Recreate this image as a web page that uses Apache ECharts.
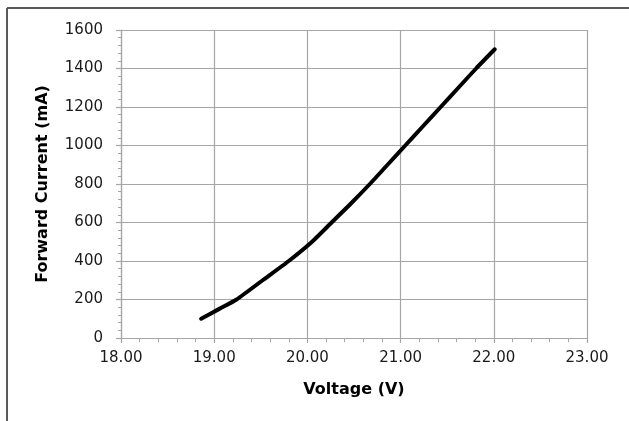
<!DOCTYPE html>
<html>
<head>
<meta charset="utf-8">
<script src="https://cdn.jsdelivr.net/npm/echarts@6/dist/echarts.min.js"></script>
<style>
html,body{margin:0;padding:0;background:#fff;}
#chart{width:629px;height:421px;}
</style>
</head>
<body>
<div id="chart"></div>
<script>
// Data
var voltage = [18.86, 19.05, 19.24, 19.52, 19.80, 20.05, 20.26, 20.47, 20.67, 20.86, 21.05, 21.24, 21.43, 21.62, 21.81, 22.01];
var current = [100, 150, 200, 300, 400, 500, 600, 700, 800, 900, 1000, 1100, 1200, 1300, 1400, 1500];
var xTitle = 'Voltage (V)';
var yTitle = 'Forward Current (mA)';

var points = voltage.map(function (v, i) { return [v, current[i]]; });
var FONT = 'DejaVu Sans';
var gridColor = '#a6a6a6';

var chart = echarts.init(document.getElementById('chart'), null, {renderer: 'canvas'});
chart.setOption({
  animation: false,
  backgroundColor: '#ffffff',
  graphic: [
    {type: 'line', shape: {x1: 7, y1: 8, x2: 640, y2: 8}, style: {stroke: '#595959', lineWidth: 2}},
    {type: 'line', shape: {x1: 7, y1: 8, x2: 7, y2: 430}, style: {stroke: '#595959', lineWidth: 2}}
  ],
  grid: {left: 121, right: 42, top: 30, bottom: 83, containLabel: false, show: false},
  xAxis: {
    type: 'value', min: 18, max: 23, interval: 1,
    name: xTitle, nameLocation: 'middle', nameGap: 44,
    nameTextStyle: {fontFamily: FONT, fontWeight: 'bold', fontSize: 16, color: '#000'},
    axisLine: {show: true, lineStyle: {color: gridColor, width: 1.2}},
    axisTick: {show: true, inside: false, length: 5, lineStyle: {color: gridColor, width: 1.2}},
    minorTick: {show: true, splitNumber: 5, length: 4, lineStyle: {color: gridColor, width: 1}},
    splitLine: {show: true, lineStyle: {color: gridColor, width: 1.2}},
    axisLabel: {fontFamily: FONT, fontSize: 15, color: '#1a1a1a', margin: 13,
                formatter: function (v) { return v.toFixed(2); }}
  },
  yAxis: {
    type: 'value', min: 0, max: 1600, interval: 200,
    name: yTitle, nameLocation: 'middle', nameGap: 70,
    nameTextStyle: {fontFamily: FONT, fontWeight: 'bold', fontSize: 16, color: '#000'},
    axisLine: {show: true, lineStyle: {color: gridColor, width: 1.2}},
    axisTick: {show: true, inside: false, length: 5, lineStyle: {color: gridColor, width: 1.2}},
    minorTick: {show: true, splitNumber: 5, length: 3, lineStyle: {color: gridColor, width: 1}},
    splitLine: {show: true, lineStyle: {color: gridColor, width: 1.2}},
    axisLabel: {fontFamily: FONT, fontSize: 15, color: '#1a1a1a', margin: 18,
                formatter: function (v) { return String(v); }}
  },
  series: [{
    type: 'line',
    data: points,
    smooth: 0.2,
    showSymbol: false,
    lineStyle: {color: '#000', width: 4, cap: 'round'},
    z: 5
  }]
});
</script>
</body>
</html>
